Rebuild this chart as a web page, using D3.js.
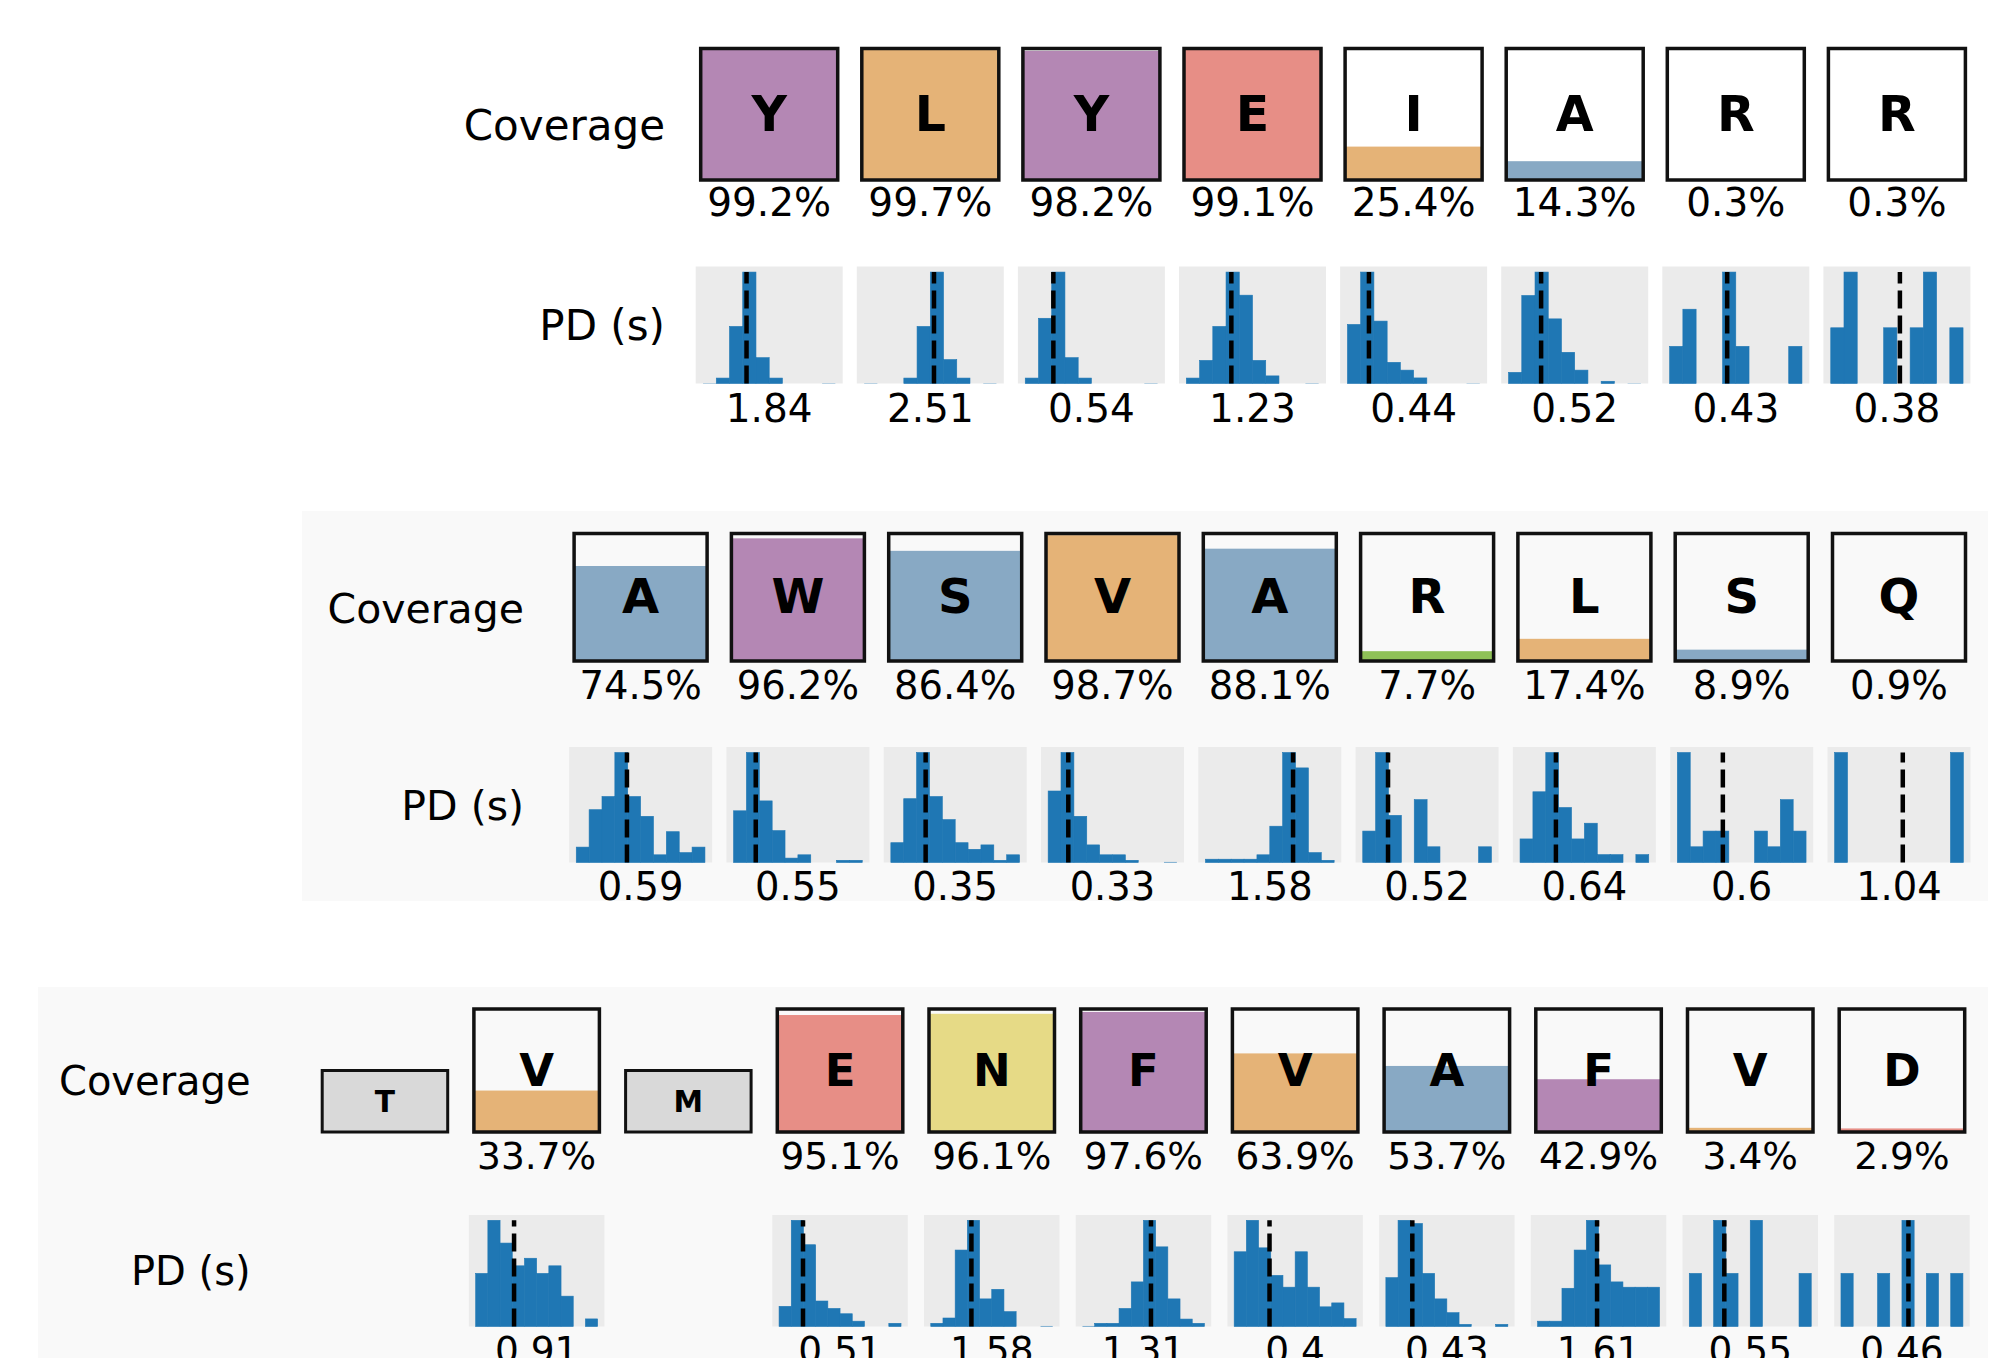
<!DOCTYPE html>
<html>
<head>
<meta charset="utf-8">
<script src="https://cdnjs.cloudflare.com/ajax/libs/d3/7.8.5/d3.min.js"></script>
<style>
  body { margin: 0; background: #fff; }
  svg { display: block; font-family: "DejaVu Sans", sans-serif; }
</style>
</head>
<body>
<svg id="chart" width="2005" height="1358"></svg>
<script>
// ---- group 1 ----
var letters1  = ["Y", "L", "Y", "E", "I", "A", "R", "R"];
var coverage1 = [99.2, 99.7, 98.2, 99.1, 25.4, 14.3, 0.3, 0.3];
var pdMedian1 = [1.84, 2.51, 0.54, 1.23, 0.44, 0.52, 0.43, 0.38];
var pdMin1    = [0.45, 0.9, 0.2, 0.4, 0.25, 0.2, 0.13, 0.15];
var pdMax1    = [4.68, 3.95, 1.80, 2.84, 1.42, 1.50, 0.82, 0.59];
var pdCounts1 = [
  [1, 20, 210, 410, 95, 20, 0, 0, 0, 1],
  [1, 0, 0, 20, 210, 410, 88, 20, 0, 1],
  [20, 240, 410, 95, 20, 0, 0, 0, 0, 1],
  [20, 85, 210, 410, 325, 85, 28, 0, 0, 1],
  [265, 500, 280, 95, 60, 25, 0, 0, 0, 1],
  [50, 395, 500, 290, 140, 60, 0, 10, 0, 1],
  [1, 2, 0, 0, 3, 1, 0, 0, 0, 1],
  [1, 2, 0, 0, 1, 0, 1, 2, 0, 1]
];

// ---- group 2 ----
var letters2  = ["A", "W", "S", "V", "A", "R", "L", "S", "Q"];
var coverage2 = [74.5, 96.2, 86.4, 98.7, 88.1, 7.7, 17.4, 8.9, 0.9];
var pdMedian2 = [0.59, 0.55, 0.35, 0.33, 1.58, 0.52, 0.64, 0.6, 1.04];
var pdMin2    = [0.2, 0.35, 0.15, 0.2, 0.3, 0.3, 0.3, 0.25, 0.5];
var pdMax2    = [1.19, 1.51, 0.89, 1.03, 2.18, 1.42, 1.52, 1.24, 1.52];
var pdCounts2 = [
  [14, 48, 60, 100, 60, 42, 7, 28, 9, 14],
  [47, 100, 56, 29, 4, 7, 0, 0, 2, 2],
  [18, 58, 100, 60, 39, 18, 12, 16, 2, 7],
  [130, 200, 84, 32, 14, 14, 4, 0, 0, 1],
  [3, 3, 3, 3, 7, 33, 100, 86, 9, 2],
  [2, 7, 3, 0, 4, 1, 0, 0, 0, 1],
  [3, 9, 14, 7, 3, 5, 1, 1, 0, 1],
  [7, 1, 2, 2, 0, 0, 2, 1, 4, 2],
  [1, 0, 0, 0, 0, 0, 0, 0, 0, 1]
];

// ---- group 3 (T and M are not covered) ----
var letters3  = ["T", "V", "M", "E", "N", "F", "V", "A", "F", "V", "D"];
var coverage3 = [null, 33.7, null, 95.1, 96.1, 97.6, 63.9, 53.7, 42.9, 3.4, 2.9];
var pdMedian3 = [null, 0.91, null, 0.51, 1.58, 1.31, 0.4, 0.43, 1.61, 0.55, 0.46];
var pdMin3    = [null, 0.4, null, 0.3, 0.7, 0.4, 0.2, 0.25, 0.6, 0.3, 0.2];
var pdMax3    = [null, 2.02, null, 1.37, 3.34, 2.02, 0.89, 1.08, 2.67, 1.17, 0.67];
var pdCounts3 = [
  null,
  [7, 14, 11, 8, 9, 7, 8, 4, 0, 1],
  null,
  [19, 100, 77, 24, 17, 12, 5, 0, 0, 3],
  [6, 16, 144, 200, 52, 70, 28, 0, 0, 1],
  [1, 6, 6, 34, 84, 200, 150, 52, 14, 6],
  [19, 27, 20, 13, 10, 19, 10, 5, 6, 2],
  [46, 100, 97, 50, 26, 13, 2, 0, 0, 2],
  [5, 5, 36, 72, 100, 58, 42, 37, 37, 37],
  [1, 0, 2, 1, 0, 2, 0, 0, 0, 1],
  [1, 0, 0, 1, 0, 2, 0, 1, 0, 1]
];

// residue colours
var residueColor = {
  A: "#88a9c4", S: "#88a9c4",
  W: "#b487b4", Y: "#b487b4", F: "#b487b4",
  L: "#e5b377", I: "#e5b377", V: "#e5b377",
  E: "#e78e86", D: "#e78e86",
  N: "#e6da86", Q: "#e6da86",
  R: "#8fc157"
};

// layout of each group (pixels)
var rows = [
  { letters: letters1, coverage: coverage1, median: pdMedian1, min: pdMin1, max: pdMax1, counts: pdCounts1,
    g: { bg: null, x0: 700.7, step: 161.1, boxW: 137, boxTop: 48.5, boxH: 131.5, pctBase: 216,
         histTop: 266.5, histH: 117, pdBase: 421.5, labelRight: 665, covBase: 140, pdLabelBase: 340,
         labelFont: 42, valFont: 39, letterFont: 49 } },
  { letters: letters2, coverage: coverage2, median: pdMedian2, min: pdMin2, max: pdMax2, counts: pdCounts2,
    g: { bg: [302, 511, 1686, 390], x0: 574.1, step: 157.3, boxW: 133, boxTop: 533.5, boxH: 127.5, pctBase: 698.5,
         histTop: 747, histH: 115.5, pdBase: 900, labelRight: 524, covBase: 622.5, pdLabelBase: 820,
         labelFont: 41, valFont: 38.5, letterFont: 48 } },
  { letters: letters3, coverage: coverage3, median: pdMedian3, min: pdMin3, max: pdMax3, counts: pdCounts3,
    g: { bg: [38, 987, 1950, 380], x0: 322.2, step: 151.7, boxW: 125.5, boxTop: 1009, boxH: 123, pctBase: 1169,
         histTop: 1215, histH: 111.5, pdBase: 1363, labelRight: 250.6, covBase: 1095, pdLabelBase: 1285,
         labelFont: 40, valFont: 37.5, letterFont: 45 } }
];

var svg = d3.select("#chart");

function drawRow(row) {
  var g = row.g;
  var n = row.letters.length;
  var band = d3.scaleBand()
    .domain(d3.range(n))
    .range([g.x0, g.x0 + (n - 1) * g.step + g.boxW])
    .paddingInner(1 - g.boxW / g.step)
    .paddingOuter(0);
  var bw = band.bandwidth();

  var layer = svg.append("g");
  if (g.bg) {
    layer.append("rect")
      .attr("x", g.bg[0]).attr("y", g.bg[1])
      .attr("width", g.bg[2]).attr("height", g.bg[3])
      .attr("fill", "#f9f9f9");
  }

  layer.append("text")
    .attr("x", g.labelRight).attr("y", g.covBase)
    .attr("text-anchor", "end")
    .style("font-size", g.labelFont + "px")
    .text("Coverage");
  layer.append("text")
    .attr("x", g.labelRight).attr("y", g.pdLabelBase)
    .attr("text-anchor", "end")
    .style("font-size", g.labelFont + "px")
    .text("PD (s)");

  var cells = layer.selectAll("g.cell")
    .data(d3.range(n))
    .join("g")
    .attr("class", "cell")
    .attr("transform", function (i) { return "translate(" + band(i) + ",0)"; });

  cells.each(function (i) {
    var cell = d3.select(this);
    var c = row.coverage[i];
    var letter = row.letters[i];

    // residue without data: short grey box
    if (c == null) {
      var sh = g.boxH * 0.5;
      cell.append("rect")
        .attr("x", 0).attr("y", g.boxTop + g.boxH - sh)
        .attr("width", bw).attr("height", sh)
        .attr("fill", "#d9d9d9").attr("stroke", "#111").attr("stroke-width", 3);
      var sf = g.letterFont * 0.66;
      cell.append("text")
        .attr("x", bw / 2).attr("y", g.boxTop + g.boxH - sh / 2 + sf * 0.729 / 2)
        .attr("text-anchor", "middle")
        .style("font-size", sf + "px").style("font-weight", "bold")
        .text(letter);
      return;
    }

    // coverage box
    var yc = d3.scaleLinear().domain([0, 100]).range([g.boxTop + g.boxH, g.boxTop]);
    cell.append("rect")
      .attr("x", 0).attr("y", yc(c))
      .attr("width", bw).attr("height", yc(0) - yc(c))
      .attr("fill", residueColor[letter]);
    cell.append("rect")
      .attr("x", 0).attr("y", g.boxTop)
      .attr("width", bw).attr("height", g.boxH)
      .attr("fill", "none").attr("stroke", "#111").attr("stroke-width", 3.5);
    cell.append("text")
      .attr("x", bw / 2).attr("y", g.boxTop + g.boxH * 0.49 + g.letterFont * 0.729 / 2)
      .attr("text-anchor", "middle")
      .style("font-size", g.letterFont + "px").style("font-weight", "bold")
      .text(letter);
    cell.append("text")
      .attr("x", bw / 2).attr("y", g.pctBase)
      .attr("text-anchor", "middle")
      .style("font-size", g.valFont + "px")
      .text(c.toFixed(1) + "%");

    // PD histogram
    var pw = bw + 10;
    var hist = cell.append("g")
      .attr("transform", "translate(" + ((bw - pw) / 2) + "," + g.histTop + ")");
    hist.append("rect")
      .attr("width", pw).attr("height", g.histH)
      .attr("fill", "#ebebeb");

    var counts = row.counts[i];
    var lo = row.min[i], hi = row.max[i];
    var nb = counts.length;
    var x = d3.scaleLinear().domain([lo, hi]).range([0.05 * pw, 0.95 * pw]);
    var cmax = d3.max(counts);
    var y = d3.scaleLinear().domain([0, cmax * 1.05]).range([g.histH, 0]);
    var step = (hi - lo) / nb;

    hist.selectAll("rect.bar")
      .data(counts)
      .join("rect")
      .attr("class", "bar")
      .attr("x", function (d, k) { return x(lo + k * step); })
      .attr("width", function (d, k) { return x(lo + (k + 1) * step) - x(lo + k * step); })
      .attr("y", function (d) { return y(d); })
      .attr("height", function (d) { return y(0) - y(d); })
      .attr("fill", "#1f77b4")
      .attr("stroke", "#1f77b4")
      .attr("stroke-width", function (d) { return y(0) - y(d) > 1.5 ? 0.6 : 0; });

    var m = row.median[i];
    hist.append("line")
      .attr("x1", x(m)).attr("x2", x(m))
      .attr("y1", y(0)).attr("y2", y(cmax))
      .attr("stroke", "#000").attr("stroke-width", 4.5)
      .attr("stroke-dasharray", "18,7");

    cell.append("text")
      .attr("x", bw / 2).attr("y", g.pdBase)
      .attr("text-anchor", "middle")
      .style("font-size", g.valFont + "px")
      .text(String(m));
  });
}

rows.forEach(drawRow);
</script>
</body>
</html>
